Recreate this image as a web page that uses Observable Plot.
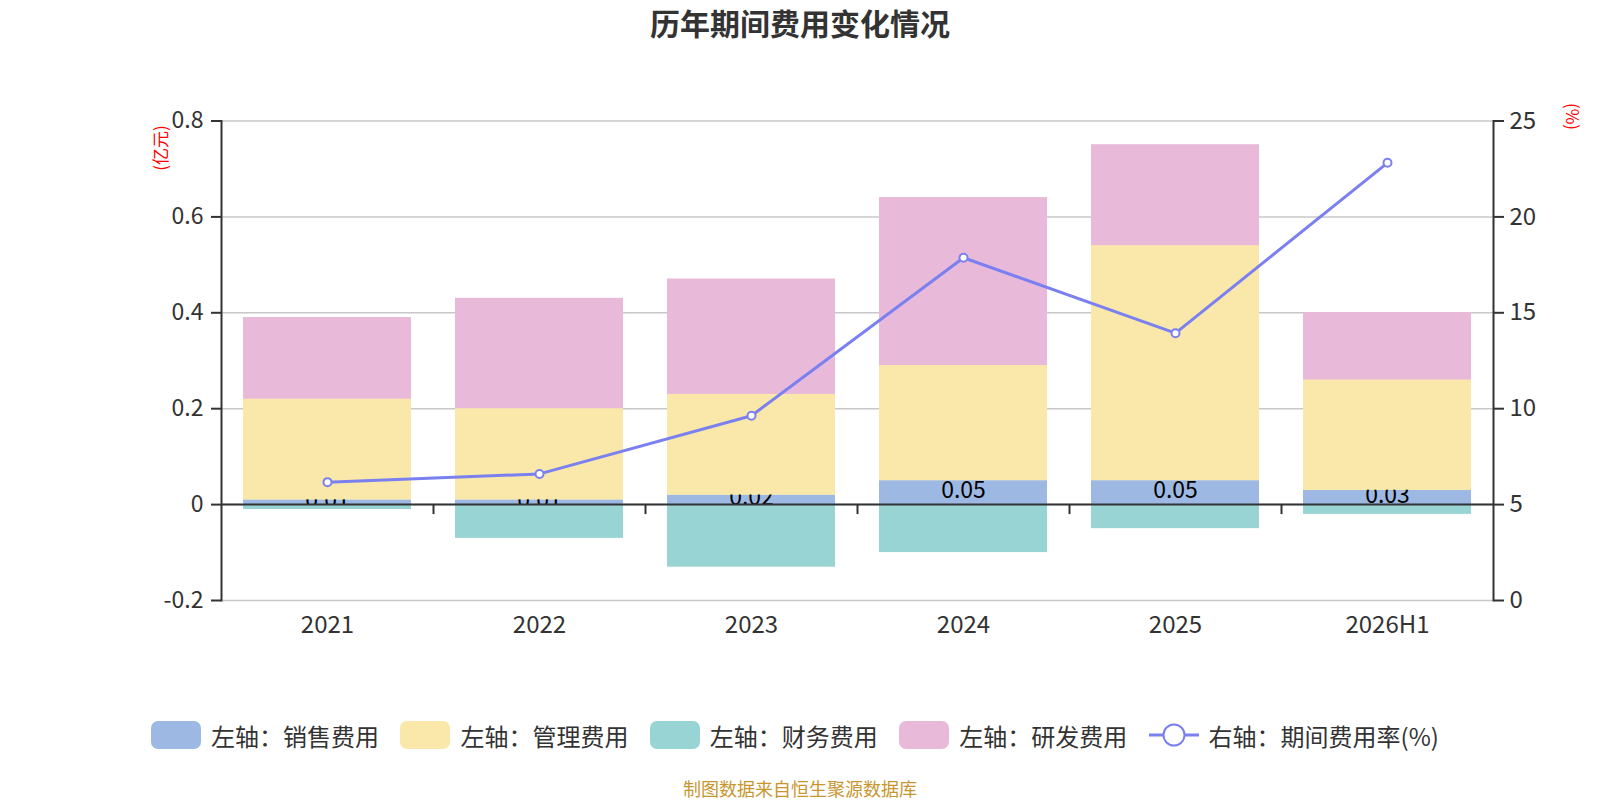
<!DOCTYPE html>
<html><head><meta charset="utf-8">
<script src="https://cdn.jsdelivr.net/npm/d3@7"></script>
<script src="https://cdn.jsdelivr.net/npm/@observablehq/plot@0.6"></script>
<style>
body{margin:0;background:#fff;font-family:"Noto Sans CJK SC","Noto Sans",sans-serif;width:1600px;}
#title{height:50px;line-height:45px;text-align:center;font-size:30px;font-weight:bold;color:#333;}
#chart{height:650px;}
#legend{display:flex;justify-content:center;align-items:center;margin-top:20px;height:30px;padding-right:10px;}
.item{display:flex;align-items:center;margin:0 10.7px;font-size:24px;color:#333;white-space:nowrap;}
.sw{width:50px;height:28px;border-radius:7px;margin-right:10px;}
#footer{text-align:center;font-size:18px;color:#c8962f;margin-top:27px;line-height:22px;}
</style></head>
<body>
<div id="title">历年期间费用变化情况</div>
<div id="chart"></div>
<div id="legend"></div>
<div id="footer">制图数据来自恒生聚源数据库</div>
<script>
const years = ["2021","2022","2023","2024","2025","2026H1"];
const sales = [0.01,0.01,0.02,0.05,0.05,0.03];
const admin = [0.21,0.19,0.21,0.24,0.49,0.23];
const finance = [-0.01,-0.07,-0.13,-0.10,-0.05,-0.02];
const rnd = [0.17,0.23,0.24,0.35,0.21,0.14];
const rate = [6.17,6.6,9.63,17.87,13.94,22.82];
const leftTicks = [-0.2,0,0.2,0.4,0.6,0.8];
const rightTicks = [0,5,10,15,20,25];

const seriesNames = ["左轴：销售费用","左轴：管理费用","左轴：财务费用","左轴：研发费用"];
const lineName = "右轴：期间费用率(%)";
const colors = ["#9db9e3","#f9e8a9","#98d4d4","#e8b9d9"];
const lineColor = "#7b80f0";
const seriesVals = [sales, admin, finance, rnd];

const data = [];
seriesNames.forEach((s,si)=>years.forEach((y,i)=>data.push({year:y, s, v:seriesVals[si][i]})));
const salesData = years.map((y,i)=>({year:y, s:seriesNames[0], v:sales[i]}));
const rateData = years.map((y,i)=>({year:y, r:rate[i]}));

// right axis (0..25) mapped onto the left domain (-0.2..0.8)
const toLeft = r => r/25 - 0.2;
const toRight = v => Math.round((v + 0.2)*25);

const W = 1600, mL = 221, mR = 107;
const step = (W - mL - mR)/years.length;
const fmtLeft = d => d === 0 ? "0" : d3.format(".1f")(d).replace("−","-");

const plot = Plot.plot({
  width: W, height: 650,
  marginLeft: mL, marginRight: mR, marginTop: 70.5, marginBottom: 100,
  style: {fontFamily: '"Noto Sans CJK SC","Noto Sans",sans-serif', fontSize: "22px", color: "#333", background: "#fff", overflow: "visible"},
  x: {domain: years, paddingInner: 0.206, paddingOuter: 0.103, label: null},
  y: {domain: [-0.2, 0.8], label: null},
  color: {domain: seriesNames, range: colors},
  marks: [
    Plot.gridY(leftTicks, {stroke: "#c8c8c8", strokeOpacity: 1, strokeWidth: 1.5}),
    Plot.barY(data, Plot.stackY({x: "year", y: "v", fill: "s", order: seriesNames})),
    Plot.text(salesData, Plot.stackY({x: "year", y: "v", text: d => d3.format(".2f")(d.v), fontSize: 23, fill: "#000", dy: -2})),
    Plot.barY(data, Plot.filter(d => d.s !== seriesNames[0], Plot.stackY({x: "year", y: "v", fill: "s", order: seriesNames}))),
    Plot.ruleY([0], {stroke: "#333", strokeWidth: 2}),
    Plot.ruleX(years.slice(1), {x: d => d, y1: 0, y2: 0, dx: -step/2, insetBottom: -10, stroke: "#333", strokeWidth: 2}),
    Plot.frame({anchor: "left", stroke: "#333", strokeWidth: 2}),
    Plot.frame({anchor: "right", stroke: "#333", strokeWidth: 2}),
    Plot.axisY(leftTicks, {anchor: "left", tickSize: 10, tickPadding: 8, tickFormat: fmtLeft, fontSize: 23, fill: "#333", stroke: "#333", label: null, strokeWidth: 2}),
    Plot.axisY(rightTicks.map(toLeft), {anchor: "right", tickSize: 10, tickPadding: 6, tickFormat: v => String(toRight(v)), fontSize: 24, fill: "#333", stroke: "#333", label: null, strokeWidth: 2}),
    Plot.axisX({anchor: "bottom", tickSize: 0, tickPadding: 15, fontSize: 24, fill: "#333", label: null}),
    Plot.line(rateData, {x: "year", y: d => toLeft(d.r), stroke: lineColor, strokeWidth: 3}),
    Plot.dot(rateData, {x: "year", y: d => toLeft(d.r), r: 4, fill: "#fff", stroke: lineColor, strokeWidth: 2}),
    Plot.text(["(亿元)"], {frameAnchor: "top-left", dx: -67, dy: 27, rotate: -90, fill: "red", fontSize: 17, textAnchor: "middle"}),
    Plot.text(["(%)"], {frameAnchor: "top-right", dx: 85, dy: -4.5, rotate: 90, fill: "red", fontSize: 17, textAnchor: "middle"})
  ]
});
document.getElementById("chart").appendChild(plot);

const lg = document.getElementById("legend");
seriesNames.forEach((s,i)=>{
  const it = document.createElement("div"); it.className = "item";
  it.innerHTML = `<div class="sw" style="background:${colors[i]}"></div><span>${s}</span>`;
  lg.appendChild(it);
});
const li = document.createElement("div"); li.className = "item";
li.innerHTML = `<svg width="50" height="28" style="margin-right:10px"><line x1="0" y1="14" x2="50" y2="14" stroke="${lineColor}" stroke-width="3"/><circle cx="25" cy="14" r="10.5" fill="#fff" stroke="${lineColor}" stroke-width="2"/></svg><span>${lineName}</span>`;
lg.appendChild(li);
</script>
</body></html>
